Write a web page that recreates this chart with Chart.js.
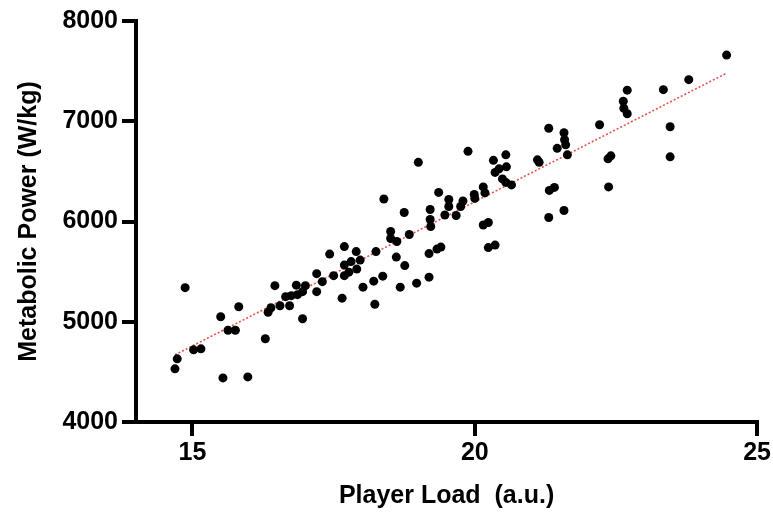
<!DOCTYPE html>
<html>
<head>
<meta charset="utf-8">
<script src="https://cdn.jsdelivr.net/npm/chart.js@4"></script>
<style>
  html, body { margin: 0; padding: 0; background: #ffffff; }
  #wrap { width: 773px; height: 516px; }
</style>
</head>
<body>
<div id="wrap"><canvas id="c" width="773" height="516"></canvas></div>
<script>
// Player Load (a.u.)
const playerLoad = [
  14.69, 14.73, 14.87, 15.02, 15.15, 15.50, 15.54, 15.63, 15.76, 15.82,
  15.98, 16.29, 16.34, 16.39, 16.46, 16.55, 16.65, 16.72, 16.75, 16.84,
  16.86, 16.95, 17.00, 16.95, 17.20, 17.20, 17.30, 17.43, 17.50, 17.65,
  17.69, 17.69, 17.69, 17.77, 17.81, 17.90, 17.91, 17.97, 18.02, 18.21,
  18.23, 18.25, 18.37, 18.39, 18.51, 18.51, 18.62, 18.61, 18.68, 18.76,
  18.75, 18.84, 18.97, 19.00, 19.19, 19.19, 19.21, 19.21, 19.22, 19.36,
  19.33, 19.40, 19.47, 19.54, 19.54, 19.67, 19.75, 19.79, 19.88, 19.99,
  20.00, 20.15, 20.18, 20.15, 20.24, 20.24, 20.36, 20.33, 20.36, 20.43,
  20.55, 20.56, 20.49, 20.55, 20.65, 21.11, 21.14, 21.31, 21.32, 21.41,
  21.46, 21.58, 21.31, 21.58, 21.59, 21.61, 21.64, 22.21, 22.36, 22.41,
  22.37, 22.63, 22.64, 22.70, 22.70, 23.34, 23.46, 23.46, 23.79, 24.46
];
// Metabolic Power (W/kg)
const metabolicPower = [
  4530, 4630, 5340, 4720, 4730, 5050, 4440, 4915, 4915, 5150,
  4450, 4830, 5095, 5140, 5360, 5160, 5250, 5160, 5260, 5365,
  5270, 5300, 5360, 5030, 5480, 5300, 5400, 5675, 5460, 5235,
  5750, 5565, 5460, 5495, 5600, 5700, 5525, 5615, 5345, 5405,
  5175, 5700, 5455, 6225, 5900, 5830, 5800, 5645, 5345, 5560,
  6090, 5870, 5385, 6590, 5445, 5680, 6120, 6020, 5950, 6290,
  5725, 5745, 6065, 6220, 6150, 6060, 6150, 6205, 6700, 6270,
  6230, 6345, 6285, 5965, 5990, 5740, 5765, 6610, 6490, 6525,
  6665, 6545, 6425, 6390, 6365, 6615, 6590, 6040, 6310, 6340,
  6730, 6110, 6930, 6885, 6815, 6765, 6665, 6965, 6625, 6655,
  6345, 7200, 7130, 7075, 7310, 7315, 6945, 6645, 7415, 7660
];
// Regression line end points
const fitX = [14.69, 24.46];
const fitY = [4670, 7480];
// Tick labels
const xTicks = [15, 20, 25];
const yTicks = [4000, 5000, 6000, 7000, 8000];

const points = playerLoad.map((x, i) => ({ x: x, y: metabolicPower[i] }));
const fitLine = fitX.map((x, i) => ({ x: x, y: fitY[i] }));

const FONT = 'Liberation Sans, Arial, Helvetica, sans-serif';

new Chart(document.getElementById('c'), {
  type: 'scatter',
  data: {
    datasets: [
      {
        type: 'scatter',
        data: points,
        backgroundColor: '#000000',
        borderColor: '#000000',
        borderWidth: 0,
        pointRadius: 4.5,
        pointHoverRadius: 4.5,
        order: 1
      },
      {
        type: 'line',
        data: fitLine,
        borderColor: '#e4544c',
        borderWidth: 1.6,
        borderDash: [2, 2],
        pointRadius: 0,
        fill: false,
        order: 2
      }
    ]
  },
  options: {
    responsive: false,
    animation: false,
    devicePixelRatio: 1,
    layout: { padding: { top: 21, right: 14, left: 0, bottom: 0 } },
    plugins: {
      legend: { display: false },
      tooltip: { enabled: false }
    },
    scales: {
      x: {
        type: 'linear',
        min: 14,
        max: 25,
        afterBuildTicks: (s) => { s.ticks = xTicks.map(v => ({ value: v })); },
        afterFit: (s) => { s.height = 94; },
        border: { display: true, color: '#000000', width: 4 },
        grid: {
          drawOnChartArea: false,
          drawTicks: true,
          tickLength: 14,
          tickWidth: 4,
          tickColor: '#000000',
          lineWidth: 4,
          color: '#000000'
        },
        ticks: {
          color: '#000000',
          padding: 2,
          maxRotation: 0,
          font: { family: FONT, size: 25, weight: 'bold' }
        },
        title: {
          display: true,
          text: 'Player Load  (a.u.)',
          color: '#000000',
          padding: { top: 0, bottom: 5 },
          font: { family: FONT, size: 25, weight: 'bold' }
        }
      },
      y: {
        type: 'linear',
        min: 4000,
        max: 8000,
        afterBuildTicks: (s) => { s.ticks = yTicks.map(v => ({ value: v })); },
        afterFit: (s) => { s.width = 136; },
        border: { display: true, color: '#000000', width: 4 },
        grid: {
          drawOnChartArea: false,
          drawTicks: true,
          tickLength: 14,
          tickWidth: 4,
          tickColor: '#000000',
          lineWidth: 4,
          color: '#000000'
        },
        ticks: {
          color: '#000000',
          padding: 4,
          font: { family: FONT, size: 25, weight: 'bold' },
          callback: (v) => String(v)
        },
        title: {
          display: true,
          text: 'Metabolic Power (W/kg)',
          color: '#000000',
          padding: { top: 14, bottom: 0 },
          font: { family: FONT, size: 25, weight: 'bold' }
        }
      }
    }
  }
});
</script>
</body>
</html>
